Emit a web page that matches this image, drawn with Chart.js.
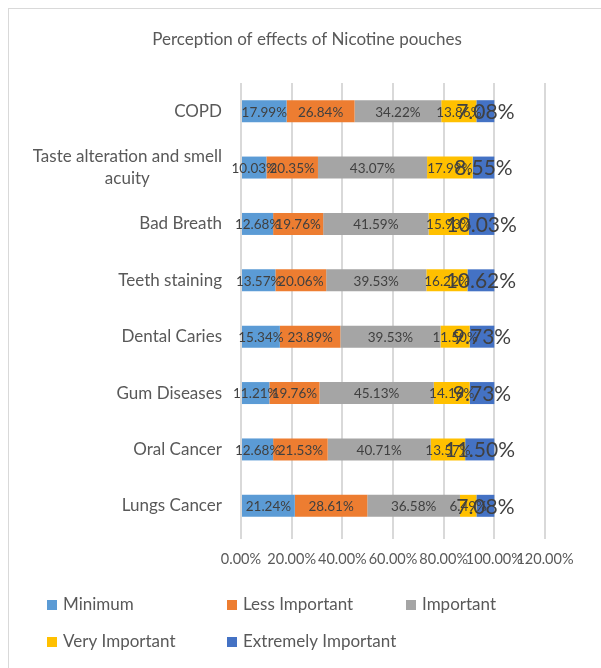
<!DOCTYPE html>
<html>
<head>
<meta charset="utf-8">
<script src="https://cdn.jsdelivr.net/npm/chart.js@4/dist/chart.umd.min.js"></script>
<style>
  html, body { margin: 0; padding: 0; background: #fff; }
  canvas { display: block; }
</style>
</head>
<body>
<canvas id="chart" width="601" height="668"></canvas>
<script>
// Categories (top to bottom) and the five response levels, in percent
const categories = ['COPD', ['Taste alteration and smell', 'acuity'], 'Bad Breath', 'Teeth staining',
  'Dental Caries', 'Gum Diseases', 'Oral Cancer', 'Lungs Cancer'];
const seriesNames = ['Minimum', 'Less Important', 'Important', 'Very Important', 'Extremely Important'];
const minimum            = [17.99, 10.03, 12.68, 13.57, 15.34, 11.21, 12.68, 21.24];
const lessImportant      = [26.84, 20.35, 19.76, 20.06, 23.89, 19.76, 21.53, 28.61];
const important          = [34.22, 43.07, 41.59, 39.53, 39.53, 45.13, 40.71, 36.58];
const veryImportant      = [13.86, 17.99, 15.93, 16.22, 11.50, 14.16, 13.57, 6.49];
const extremelyImportant = [7.08, 8.55, 10.03, 10.62, 9.73, 9.73, 11.50, 7.08];
const xTickValues = [0, 20, 40, 60, 80, 100, 120];
const chartTitle = 'Perception of effects of Nicotine pouches';

const seriesValues = [minimum, lessImportant, important, veryImportant, extremelyImportant];
const seriesColors = ['#5B9BD5', '#ED7D31', '#A5A5A5', '#FFC000', '#4472C4'];
const FONT = 'Lato, "Open Sans", sans-serif';

// White background, thin light frame and the centred title
const frame = {
  id: 'frame',
  beforeDraw(chart) {
    const ctx = chart.ctx;
    ctx.save();
    ctx.fillStyle = '#fff';
    ctx.fillRect(0, 0, chart.width, chart.height);
    ctx.strokeStyle = '#d9d9d9';
    ctx.lineWidth = 1;
    ctx.strokeRect(8.5, 8.5, chart.width + 10, chart.height + 10);
    ctx.font = '17px ' + FONT;
    ctx.fillStyle = '#595959';
    ctx.textAlign = 'center';
    ctx.textBaseline = 'middle';
    ctx.fillText(chartTitle, 307, 40);
    ctx.restore();
  }
};

// Category names: right-aligned block, lines centred within the block
const categoryLabels = {
  id: 'categoryLabels',
  afterDraw(chart) {
    const ctx = chart.ctx;
    const y = chart.scales.y;
    const right = 222;
    const lineH = 22;
    ctx.save();
    ctx.font = '17px ' + FONT;
    ctx.fillStyle = '#595959';
    ctx.textBaseline = 'middle';
    ctx.textAlign = 'center';
    chart.data.labels.forEach((lab, i) => {
      const lines = Array.isArray(lab) ? lab : [lab];
      const w = Math.max(...lines.map(l => ctx.measureText(l).width));
      const cx = right - w / 2;
      const cy = y.getPixelForValue(i);
      const top = cy - (lines.length - 1) * lineH / 2;
      lines.forEach((l, k) => ctx.fillText(l, cx, top + k * lineH));
    });
    ctx.restore();
  }
};

// Value labels centred on each segment
const valueLabels = {
  id: 'valueLabels',
  afterDatasetsDraw(chart) {
    const ctx = chart.ctx;
    const last = chart.data.datasets.length - 1;
    chart.data.datasets.forEach((ds, i) => {
      const meta = chart.getDatasetMeta(i);
      ctx.save();
      ctx.font = (i === last ? '21px ' : '13.5px ') + FONT;
      ctx.fillStyle = '#404040';
      ctx.textAlign = 'center';
      ctx.textBaseline = 'middle';
      meta.data.forEach((bar, j) => {
        const cx = (bar.x + bar.base) / 2;
        ctx.fillText(ds.data[j].toFixed(2) + '%', cx, bar.y + 1);
      });
      ctx.restore();
    });
  }
};

// Legend laid out on a fixed three-column grid
const gridLegend = {
  id: 'gridLegend',
  afterDraw(chart) {
    const ctx = chart.ctx;
    const cols = [47, 227, 406];
    const rows = [605, 642];
    ctx.save();
    ctx.font = '17px ' + FONT;
    ctx.textBaseline = 'middle';
    ctx.textAlign = 'left';
    chart.data.datasets.forEach((ds, i) => {
      const x = cols[i % 3];
      const y = rows[Math.floor(i / 3)];
      ctx.fillStyle = ds.backgroundColor;
      ctx.fillRect(x, y - 5, 10, 10);
      ctx.fillStyle = '#595959';
      ctx.fillText(ds.label, x + 16, y);
    });
    ctx.restore();
  }
};

new Chart(document.getElementById('chart'), {
  type: 'bar',
  data: {
    labels: categories,
    datasets: seriesNames.map((name, i) => ({
      label: name,
      data: seriesValues[i],
      backgroundColor: seriesColors[i],
      borderWidth: 0,
      categoryPercentage: 1,
      barPercentage: 0.39
    }))
  },
  options: {
    indexAxis: 'y',
    responsive: false,
    animation: false,
    devicePixelRatio: 1,
    layout: { padding: { left: 0, right: 56, top: 83, bottom: 0 } },
    plugins: {
      legend: { display: false },
      tooltip: { enabled: false },
      title: { display: false }
    },
    scales: {
      x: {
        stacked: true,
        min: 0,
        max: 120,
        afterBuildTicks(scale) { scale.ticks = xTickValues.map(v => ({ value: v })); },
        afterFit(scale) { scale.height = 134; },
        ticks: {
          autoSkip: false,
          maxRotation: 0,
          minRotation: 0,
          padding: 12,
          color: '#595959',
          font: { family: FONT, size: 14.5 },
          callback: v => Number(v).toFixed(2) + '%'
        },
        grid: { color: '#d9d9d9', lineWidth: 2, tickLength: 5, drawTicks: true },
        border: { display: false }
      },
      y: {
        stacked: true,
        afterFit(scale) { scale.width = 241; },
        ticks: { display: false },
        grid: { display: false, drawTicks: false },
        border: { display: false }
      }
    }
  },
  plugins: [frame, categoryLabels, valueLabels, gridLegend]
});
</script>
</body>
</html>
